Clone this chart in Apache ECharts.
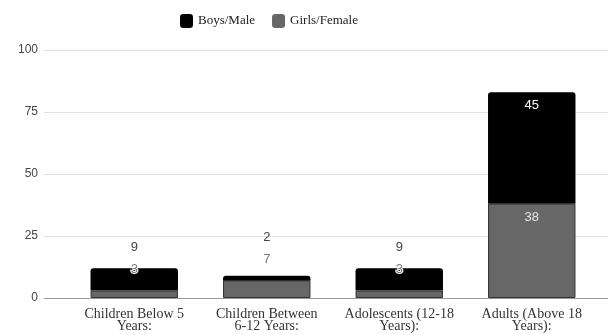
<!DOCTYPE html>
<html><head><meta charset="utf-8">
<script src="https://cdn.jsdelivr.net/npm/echarts@6/dist/echarts.min.js"></script>
<style>html,body{margin:0;padding:0;background:#fff}#c{width:608px;height:335px}</style>
</head><body><div id="c"></div>
<script>
// Age groups along the x axis
const categories = ['Children Below 5\nYears:', 'Children Between\n6-12 Years:', 'Adolescents (12-18\nYears):', 'Adults (Above 18\nYears):'];
// Counts per group
const boys = [9, 2, 9, 45];
const girls = [3, 7, 3, 38];
// Value axis ticks
const yTicks = [0, 25, 50, 75, 100];

const SANS = 'Liberation Sans';
const SERIF = 'Liberation Serif';
const GIRL_COLOR = '#676767';

const chart = echarts.init(document.getElementById('c'), null, { renderer: 'canvas' });

// Segments tall enough get their label inside; short ones are labelled above the stack.
const FIT = 10;

function girlsData(ppu) {
  return girls.map(v => {
    if (v >= FIT) {
      return { value: v, label: { show: true, position: 'insideTop', distance: 7, color: '#e4e4e4' } };
    }
    return { value: v, label: { show: true, position: 'top', distance: 15, color: '#777',
      textBorderColor: '#fff', textBorderWidth: 2 } };
  });
}
function boysData(ppu) {
  return boys.map((v, i) => {
    if (v >= FIT && girls[i] >= FIT) {
      return { value: v, label: { show: true, position: 'insideTop', distance: 7, color: '#fff' } };
    }
    // stack the outside label one line above the girls' outside label
    const d = Math.max(4, 36.5 - v * ppu);
    return { value: v, label: { show: true, position: 'top', distance: d, color: '#444' } };
  });
}

function build(ppu) {
  return {
    animation: false,
    backgroundColor: '#fff',
    legend: {
      top: 14, left: 180, padding: 0, itemWidth: 13, itemHeight: 14, itemGap: 17, icon: 'roundRect',
      itemStyle: { borderWidth: 0 },
      textStyle: { fontFamily: SERIF, fontSize: 13, color: '#222' },
      data: ['Boys/Male', 'Girls/Female']
    },
    grid: [
      { left: 44, right: 0, top: 50, bottom: 37 },
      { left: 68, right: 10, top: 50, bottom: 37 }
    ],
    xAxis: [
      { gridIndex: 0, type: 'category', data: [''], axisLine: { show: true, lineStyle: { color: '#9a9a9a', width: 1 } },
        axisTick: { show: false }, axisLabel: { show: false } },
      { gridIndex: 1, type: 'category', data: categories, axisLine: { show: false }, axisTick: { show: false },
        axisLabel: { fontFamily: SERIF, fontSize: 14, color: '#333', lineHeight: 12, margin: 10, interval: 0 } }
    ],
    yAxis: [
      { gridIndex: 0, type: 'value', min: yTicks[0], max: yTicks[yTicks.length - 1], interval: 25,
        axisLine: { show: false }, axisTick: { show: false },
        axisLabel: { fontFamily: SANS, fontSize: 12, color: '#444', margin: 6 },
        splitLine: { lineStyle: { color: '#e2e2e2' } } },
      { gridIndex: 1, type: 'value', min: yTicks[0], max: yTicks[yTicks.length - 1], interval: 25,
        show: false, splitLine: { show: false } }
    ],
    series: [
      { name: 'Girls/Female', type: 'bar', stack: 'total', xAxisIndex: 1, yAxisIndex: 1, barWidth: '66%',
        itemStyle: { color: GIRL_COLOR, borderColor: '#333', borderWidth: 1 },
        label: { fontFamily: SANS, fontSize: 13 },
        data: girlsData(ppu) },
      { name: 'Boys/Male', type: 'bar', stack: 'total', xAxisIndex: 1, yAxisIndex: 1, barWidth: '66%',
        itemStyle: { color: '#000', borderRadius: [3, 3, 0, 0] },
        label: { fontFamily: SANS, fontSize: 13 },
        data: boysData(ppu) }
    ]
  };
}

chart.setOption(build(2.48));
const p0 = chart.convertToPixel({ yAxisIndex: 1 }, 0);
const p1 = chart.convertToPixel({ yAxisIndex: 1 }, 1);
chart.setOption(build(p0 - p1));
</script>
</body></html>
